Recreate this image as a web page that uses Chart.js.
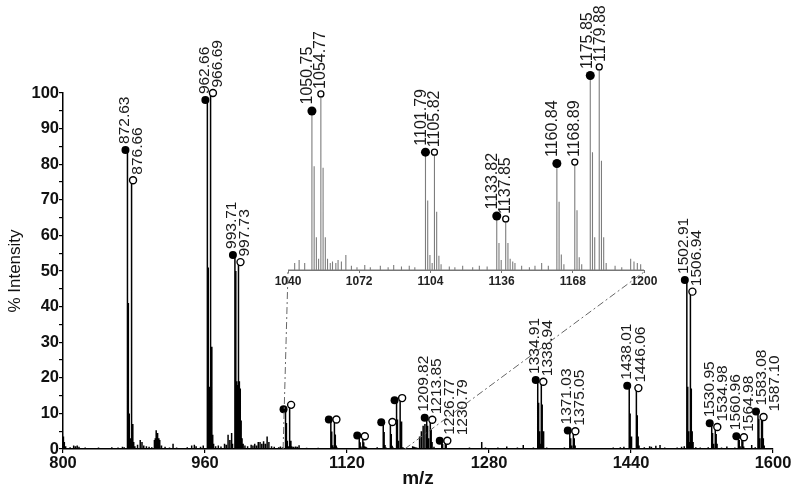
<!DOCTYPE html>
<html>
<head>
<meta charset="utf-8">
<script src="https://cdn.jsdelivr.net/npm/chart.js@4.4.1/dist/chart.umd.min.js"></script>
<style>
  html, body { margin: 0; padding: 0; background: #fff; }
  #wrap { position: relative; width: 800px; height: 495px; }
  #main { position: absolute; left: 0; top: 0; }
  #inset { position: absolute; left: 270px; top: 0; }
</style>
</head>
<body>
<div id="wrap">
  <canvas id="main" width="800" height="495"></canvas>
  <canvas id="inset" width="400" height="300"></canvas>
</div>
<script>
// stick spectrum, m/z and % intensity
var spectrumMz = [
  800.5, 801.5, 803, 808, 812, 814, 816, 818, 825, 832, 840, 848, 855, 862, 867, 869,
  872.63, 873.63, 874.63, 875.63, 876.66, 877.66, 878.66, 879.66,
  881, 884, 887, 889, 891, 894, 897, 900,
  903, 904, 905, 906, 907, 908, 909, 911,
  915, 920, 924, 928, 933, 940, 945, 948, 950, 955, 958,
  962.66, 963.66, 964.66, 965.66, 966.69, 967.69, 968.69, 969.69,
  972, 975, 978, 982, 984, 986, 988, 990, 991,
  993.71, 994.71, 995.71, 996.71, 997.73, 998.73, 999.73, 1000.73, 1001.73,
  1003, 1005, 1008, 1012, 1014, 1016, 1018, 1020, 1022, 1024, 1026, 1028, 1030, 1032, 1035, 1038, 1043, 1045, 1047.5,
  1050.75, 1051.75, 1052.75, 1053.75, 1054.77, 1055.77, 1056.77, 1057.77,
  1059, 1060, 1061.5, 1062.5, 1064, 1066, 1068.5, 1071, 1074.5, 1077, 1081.5, 1085, 1087.5, 1091, 1094.5, 1097,
  1101.79, 1102.79, 1103.79, 1104.79, 1105.82, 1106.82, 1107.82, 1108.8,
  1112.5, 1115, 1118.5, 1123, 1126, 1129.5,
  1133.82, 1134.82, 1135.82, 1137.85, 1138.85, 1139.85, 1141, 1142,
  1145, 1148.5, 1151, 1154, 1157,
  1160.84, 1161.84, 1162.84, 1164, 1168.89, 1169.89, 1170.89, 1172,
  1175.85, 1176.85, 1177.85, 1179.88, 1180.88, 1181.88, 1183,
  1187, 1190, 1194, 1195.5, 1197, 1198.5,
  1201.8, 1203.8, 1205.8, 1207.8, 1209.82, 1210.82, 1211.82, 1213.85, 1214.85, 1215.85, 1218,
  1226.77, 1227.77, 1230.79, 1231.79, 1235, 1242, 1250, 1258, 1265,
  1271.8, 1276, 1283, 1290, 1300, 1306, 1312, 1318.6, 1325, 1330,
  1334.91, 1335.91, 1336.91, 1337.91, 1338.94, 1339.94, 1340.94, 1341.94,
  1345, 1350, 1358, 1365,
  1371.03, 1372.03, 1373.03, 1375.05, 1376.05, 1377.05,
  1382, 1390, 1400, 1410, 1420, 1428, 1432,
  1438.01, 1439.01, 1440.01, 1441.01, 1446.06, 1447.06, 1448.06, 1449.06,
  1455, 1461, 1463, 1468, 1472.7, 1478, 1485, 1492, 1497, 1500,
  1502.91, 1503.91, 1504.91, 1505.91, 1506.94, 1507.94, 1508.94, 1509.94,
  1513, 1518, 1524, 1527,
  1530.95, 1531.95, 1532.95, 1534.98, 1535.98, 1536.98,
  1542, 1548, 1553, 1557,
  1560.96, 1561.96, 1562.96, 1564.98, 1565.98, 1566.98,
  1571, 1576, 1580,
  1583.08, 1584.08, 1585.08, 1587.10, 1588.10, 1589.10, 1590.1, 1594, 1598
];
var spectrumInt = [
  3.5, 2.0, 0.8, 0.5, 1.0, 0.8, 1.0, 0.6, 0.4, 0.3, 0.4, 0.3, 0.5, 0.4, 0.6, 0.5,
  84, 41, 10, 3, 75.5, 34, 7, 2,
  0.8, 1.2, 2.5, 2.0, 1.0, 0.8, 0.6, 0.5,
  2.5, 3.0, 5.3, 4.5, 4.5, 3.0, 2.5, 1.0,
  0.6, 0.4, 1.5, 0.4, 0.3, 0.5, 1.0, 1.2, 0.8, 0.6, 1.0,
  98, 51, 17.5, 4, 100, 28.7, 4, 1.5,
  0.8, 1.0, 0.7, 1.5, 1.2, 4.0, 2.5, 4.5, 1.5,
  54.5, 50, 19, 18, 52.5, 19, 17, 8, 3,
  1.5, 1.0, 0.8, 1.2, 1.0, 1.5, 1.0, 2.0, 2.0, 1.5, 2.2, 1.5, 3.5, 2.0, 0.8, 0.6, 0.5, 0.7, 0.5,
  11.2, 7.3, 2.3, 0.8, 12.4, 7.2, 2.3, 0.8,
  0.5, 0.6, 0.5, 0.7, 0.6, 1.05, 0.3, 0.2, 0.35, 0.2, 0.3, 0.2, 0.35, 0.25, 0.3, 0.2,
  8.3, 4.9, 1.05, 0.5, 8.3, 4.1, 1.0, 0.4,
  0.25, 0.2, 0.3, 0.2, 0.3, 0.25,
  3.8, 1.9, 0.7, 3.6, 1.9, 0.8, 0.6, 0.5,
  0.3, 0.2, 0.3, 0.5, 0.3,
  7.5, 4.8, 1.1, 0.4, 7.6, 4.2, 0.9, 0.4,
  13.7, 8.3, 2.3, 14.3, 7.7, 2.3, 0.5,
  0.3, 0.2, 0.8, 0.6, 0.5, 0.4,
  3.5, 5.0, 6.5, 7.0, 8.8, 6.5, 3.0, 8.2, 5.5, 2.0, 0.6,
  2.3, 1.4, 2.3, 1.3, 0.3, 0.3, 0.3, 0.4, 0.3,
  2.0, 0.4, 0.3, 0.4, 0.7, 0.3, 0.4, 1.1, 0.3, 0.4,
  19.4, 13, 5, 1.5, 18.9, 12.5, 5, 1.5,
  0.4, 0.3, 0.3, 0.4,
  5.2, 3.0, 1.0, 5.0, 3.0, 1.0,
  0.3, 0.3, 0.3, 0.3, 0.4, 0.5, 0.6,
  17.8, 10, 3.5, 1.0, 17.1, 9.5, 3.5, 1.0,
  0.5, 0.8, 0.6, 0.9, 1.1, 0.4, 0.3, 0.4, 0.6, 0.8,
  47.5, 17.5, 5, 2, 44.2, 17, 5, 2,
  0.5, 0.4, 0.3, 0.5,
  7.2, 4.5, 1.5, 6.2, 4.2, 1.5,
  0.4, 0.7, 0.3, 0.4,
  3.6, 2.5, 0.8, 3.3, 2.2, 0.7,
  0.3, 1.1, 0.5,
  10.5, 8.5, 3, 9, 8.5, 3, 1, 0.3, 0.2
];

// marked peaks: filled circles and open circles
var filledMz  = [872.63, 962.66, 993.71, 1050.75, 1101.79, 1133.82, 1160.84, 1175.85, 1209.82, 1226.77, 1334.91, 1371.03, 1438.01, 1502.91, 1530.95, 1560.96, 1583.08];
var filledInt = [84, 98, 54.5, 11.2, 8.3, 3.8, 7.5, 13.7, 8.8, 2.3, 19.4, 5.2, 17.8, 47.5, 7.2, 3.6, 10.5];
var openMz    = [876.66, 966.69, 997.73, 1054.77, 1105.82, 1137.85, 1168.89, 1179.88, 1213.85, 1230.79, 1338.94, 1375.05, 1446.06, 1506.94, 1534.98, 1564.98, 1587.10];
var openInt   = [75.5, 100, 52.5, 12.4, 8.3, 3.6, 7.6, 14.3, 8.2, 2.3, 18.9, 5.0, 17.1, 44.2, 6.2, 3.3, 9.0];

var xTicks = [800, 960, 1120, 1280, 1440, 1600];
var yTicks = [0, 10, 20, 30, 40, 50, 60, 70, 80, 90, 100];
var insetTicks = [1040, 1072, 1104, 1136, 1168, 1200];
var zoomFrom = [1048, 1185];   // where the dashed guides leave the main axis

var FONT = '"Liberation Sans", Arial, sans-serif';
Chart.defaults.font.family = FONT;
Chart.defaults.color = '#111';

function sticks(lo, hi) {
  var pts = [{x: lo, y: 0}];
  spectrumMz.forEach(function (m, i) {
    pts.push({x: m, y: 0}, {x: m, y: spectrumInt[i]}, {x: m, y: 0});
  });
  pts.push({x: hi, y: 0});
  return pts;
}

function marks(mz, inten, lo, hi) {
  var out = [];
  mz.forEach(function (m, i) {
    if (m >= lo && m <= hi) out.push({x: m, y: inten[i]});
  });
  return out;
}

function plain(v) { return String(v); }

// nudge marker circles sideways so pairs sit next to each other
var nudge = {
  id: 'nudge',
  afterDatasetsUpdate: function (chart) {
    chart.data.datasets.forEach(function (ds, i) {
      if (!ds.dx) return;
      chart.getDatasetMeta(i).data.forEach(function (el) { el.x += ds.dx; });
    });
  }
};

// rotated m/z labels above the circles
var peakLabels = {
  id: 'peakLabels',
  afterDatasetsDraw: function (chart, args, opts) {
    var items = [];
    chart.data.datasets.forEach(function (ds, i) {
      if (!ds.marker) return;
      var meta = chart.getDatasetMeta(i);
      meta.data.forEach(function (el, j) {
        var m = ds.data[j].x;
        if (opts.skip && m > opts.skip[0] && m < opts.skip[1]) return;
        items.push({m: m, x: el.x, y: el.y, filled: ds.marker === 'filled', r: ds.pointRadius});
      });
    });
    items.sort(function (a, b) { return a.x - b.x; });
    var ctx = chart.ctx, prev = -1e9;
    ctx.save();
    ctx.font = opts.font;
    ctx.fillStyle = '#1a1a1a';
    ctx.textAlign = 'left';
    ctx.textBaseline = 'middle';
    items.forEach(function (it) {
      var lx = it.x + (it.filled ? opts.fdx : opts.odx);
      lx = Math.max(lx, prev + opts.gap);
      prev = lx;
      ctx.save();
      ctx.translate(lx, it.y - it.r - 2);
      ctx.rotate(-Math.PI / 2);
      ctx.fillText(it.m.toFixed(2), 0, 0);
      ctx.restore();
    });
    ctx.restore();
  }
};

// ---------- inset ----------
var insetChart = new Chart(document.getElementById('inset'), {
  type: 'scatter',
  data: {
    datasets: [
      {
        data: marks(filledMz, filledInt, 1040, 1200), marker: 'filled', order: 1, clip: false,
        pointRadius: 4.5, pointBackgroundColor: '#000', pointBorderWidth: 0
      },
      {
        data: marks(openMz, openInt, 1040, 1200), marker: 'open', order: 1, clip: false,
        pointRadius: 3, pointBackgroundColor: '#fff', pointBorderColor: '#000', pointBorderWidth: 1.3
      },
      {
        data: sticks(800, 1600), showLine: true, order: 2,
        borderColor: '#7d7d7d', borderWidth: 1.1, pointRadius: 0, tension: 0
      }
    ]
  },
  options: {
    responsive: false,
    animation: false,
    devicePixelRatio: 1,
    events: [],
    layout: { padding: { left: 18, right: 26, top: 57, bottom: 0 } },
    plugins: {
      legend: { display: false },
      tooltip: { enabled: false },
      peakLabels: { font: '16px ' + FONT, fdx: -4, odx: 0, gap: 13 }
    },
    scales: {
      x: {
        type: 'linear', min: 1040, max: 1200,
        afterBuildTicks: function (s) { s.ticks = insetTicks.map(function (v) { return {value: v}; }); },
        afterFit: function (s) { s.height = 30; },
        border: { display: true, color: '#777', width: 1 },
        grid: { drawOnChartArea: false, drawTicks: true, tickLength: 3, color: '#777' },
        ticks: { autoSkip: false, maxRotation: 0, padding: 1, color: '#222', font: { size: 12, weight: 'bold' }, callback: plain }
      },
      y: { display: false, min: 0, max: 15 }
    }
  },
  plugins: [nudge, peakLabels]
});

// ---------- main ----------
var insetLeft = document.getElementById('inset').offsetLeft;
var insetTop = document.getElementById('inset').offsetTop;

var guides = {
  id: 'guides',
  afterDatasetsDraw: function (chart) {
    var ctx = chart.ctx, x = chart.scales.x, y = chart.scales.y;
    var ix = insetChart.scales.x, iy = insetChart.scales.y;
    ctx.save();
    ctx.strokeStyle = '#666';
    ctx.lineWidth = 1;
    ctx.setLineDash([7, 3, 2, 3]);
    ctx.beginPath();
    zoomFrom.forEach(function (m, i) {
      ctx.moveTo(x.getPixelForValue(m), y.getPixelForValue(0));
      ctx.lineTo(insetLeft + ix.getPixelForValue(i === 0 ? ix.min : ix.max), insetTop + iy.getPixelForValue(0) + 2);
    });
    ctx.stroke();
    ctx.restore();
  }
};

new Chart(document.getElementById('main'), {
  type: 'scatter',
  data: {
    datasets: [
      {
        data: marks(filledMz, filledInt, 800, 1600), marker: 'filled', dx: -2, order: 1, clip: false,
        pointRadius: 4, pointBackgroundColor: '#000', pointBorderWidth: 0
      },
      {
        data: marks(openMz, openInt, 800, 1600), marker: 'open', dx: 2, order: 1, clip: false,
        pointRadius: 3.5, pointBackgroundColor: '#fff', pointBorderColor: '#000', pointBorderWidth: 1.4
      },
      {
        data: sticks(800, 1600), showLine: true, order: 2,
        borderColor: '#000', borderWidth: 1.5, pointRadius: 0, tension: 0
      }
    ]
  },
  options: {
    responsive: false,
    animation: false,
    devicePixelRatio: 1,
    events: [],
    layout: { padding: { left: 0, right: 27, top: 93, bottom: 0 } },
    plugins: {
      legend: { display: false },
      tooltip: { enabled: false },
      peakLabels: { font: '15.5px ' + FONT, fdx: -1, odx: 2, gap: 13, skip: [1040, 1200] }
    },
    scales: {
      x: {
        type: 'linear', min: 800, max: 1600,
        afterBuildTicks: function (s) { s.ticks = xTicks.map(function (v) { return {value: v}; }); },
        afterFit: function (s) { s.height = 46; },
        border: { display: true, color: '#000', width: 1.5 },
        grid: { drawOnChartArea: false, drawTicks: true, tickLength: 4, color: '#000', lineWidth: 1.2 },
        ticks: { autoSkip: false, maxRotation: 0, padding: 1, color: '#111', font: { size: 16.5, weight: 'bold' }, callback: plain },
        title: { display: true, text: 'm/z', color: '#111', font: { size: 19, weight: 'bold' }, padding: { top: 0, bottom: 5 } }
      },
      y: {
        min: 0, max: 100,
        afterBuildTicks: function (s) {
          var t = [];
          yTicks.forEach(function (v, i) {
            t.push({value: v});
            if (i < yTicks.length - 1) t.push({value: (v + yTicks[i + 1]) / 2});
          });
          s.ticks = t;
        },
        afterFit: function (s) { s.width = 63; },
        border: { display: true, color: '#000', width: 1.5 },
        grid: { drawOnChartArea: false, drawTicks: true, tickLength: 4, color: '#000', lineWidth: 1.2 },
        ticks: {
          autoSkip: false, padding: 0, color: '#111', font: { size: 16.5, weight: 'bold' },
          callback: function (v) { return yTicks.indexOf(v) >= 0 ? String(v) : ''; }
        },
        title: { display: true, text: '% Intensity', color: '#111', font: { size: 17 }, padding: { top: 5, bottom: 0 } }
      }
    }
  },
  plugins: [nudge, guides, peakLabels]
});
</script>
</body>
</html>
